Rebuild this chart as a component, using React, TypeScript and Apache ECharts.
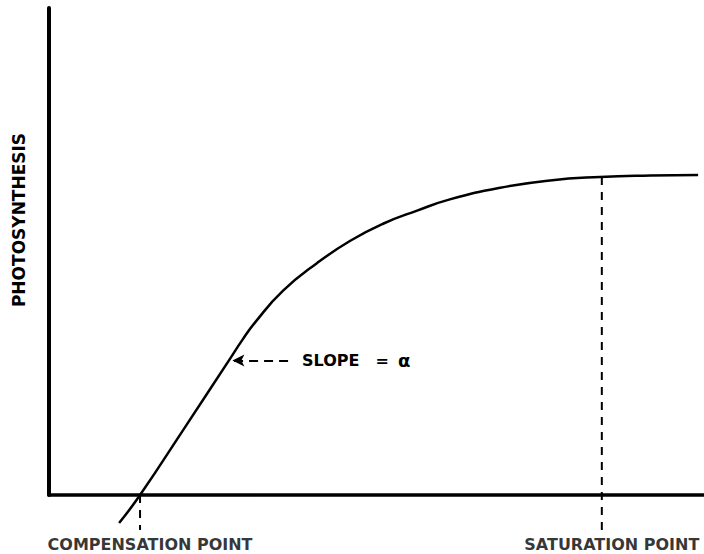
import React, { useEffect, useRef } from "react";
import * as echarts from "echarts";

// Light-response curve (arbitrary units: x = light intensity 0–100, y = photosynthesis 0–100)
const curveX = [10.7, 13.9, 20.8, 27.6, 29.5, 31.5, 35.7, 40.9, 46.0, 51.0, 56.2, 61.2, 68.9, 76.5, 84.1, 91.8, 99.1];
const curveY = [-5.75, 0, 14.0, 27.9, 31.8, 35.5, 41.9, 47.6, 52.2, 55.7, 58.4, 60.7, 63.1, 64.6, 65.3, 65.6, 65.7];

const compensationX = 13.9;
const saturationX = 84.4;
const saturationY = 65.3;
const dropBottom = -7.2;

const pointLabels = ["COMPENSATION POINT", "SATURATION POINT"];
const yAxisTitle = "PHOTOSYNTHESIS";
const slopeArrow = { fromX: 36.5, toX: 28.0, y: 27.6 };

export default function App() {
  const ref = useRef<HTMLDivElement>(null);
  useEffect(() => {
    if (!ref.current) return;
    const chart = echarts.init(ref.current, null, { renderer: "svg" });
    const font = "DejaVu Sans";
    chart.setOption({
      animation: false,
      backgroundColor: "#fff",
      grid: { left: 49, right: 0, top: 8, bottom: 59 },
      xAxis: {
        type: "value",
        min: 0,
        max: 100,
        axisLine: { show: true, onZero: false, lineStyle: { color: "#000", width: 3.5, cap: "round" } },
        axisTick: { show: false },
        axisLabel: { show: false },
        splitLine: { show: false },
      },
      yAxis: {
        type: "value",
        min: 0,
        max: 100,
        axisLine: { show: true, onZero: false, lineStyle: { color: "#000", width: 4, cap: "round" } },
        axisTick: { show: false },
        axisLabel: { show: false },
        splitLine: { show: false },
      },
      graphic: [
        {
          type: "text",
          x: 19,
          y: 220,
          rotation: Math.PI / 2,
          style: {
            text: yAxisTitle,
            fill: "#000",
            font: `bold 17px "${font}"`,
            textAlign: "center",
            textVerticalAlign: "middle",
          },
        },
      ],
      series: [
        {
          type: "line",
          data: curveX.map((x, i) => [x, curveY[i]]),
          smooth: 0.5,
          showSymbol: false,
          clip: false,
          lineStyle: { color: "#000", width: 2.5 },
          markLine: {
            silent: true,
            symbol: ["none", "arrow"],
            symbolSize: [9, 12],
            label: {
              show: true,
              position: "start",
              formatter: "{s|SLOPE}{e|=}{a|α}",
              rich: {
                s: { fontFamily: font, fontWeight: "bold", fontSize: 16, color: "#000", padding: [0, 0, 0, 9] },
                e: { fontFamily: font, fontWeight: "bold", fontSize: 16, color: "#000", padding: [0, 0, 0, 16] },
                a: { fontFamily: font, fontWeight: "bold", fontSize: 18, color: "#000", padding: [0, 0, 0, 9] },
              },
            },
            lineStyle: { color: "#000", width: 2, type: [9, 6] },
            data: [[{ coord: [slopeArrow.fromX, slopeArrow.y] }, { coord: [slopeArrow.toX, slopeArrow.y] }]],
          },
        },
        {
          type: "line",
          data: [[compensationX, 0], [compensationX, dropBottom]],
          showSymbol: false,
          clip: false,
          lineStyle: { color: "#000", width: 2, type: [8, 7] },
        },
        {
          type: "line",
          data: [[saturationX, saturationY], [saturationX, dropBottom]],
          showSymbol: false,
          clip: false,
          lineStyle: { color: "#000", width: 2, type: [8, 7] },
        },
        {
          type: "scatter",
          data: [[compensationX, dropBottom], [saturationX, dropBottom]],
          symbolSize: 1,
          clip: false,
          itemStyle: { color: "rgba(0,0,0,0)" },
          label: {
            show: true,
            position: "bottom",
            distance: 6,
            offset: [10, 0],
            color: "#000",
            fontFamily: font,
            fontWeight: "bold",
            fontSize: 16,
            formatter: (p: any) => pointLabels[p.dataIndex],
          },
        },
      ],
    });
    return () => chart.dispose();
  }, []);
  return <div ref={ref} style={{ width: 704, height: 554, position: "absolute", left: 0, top: 0 }} />;
}
